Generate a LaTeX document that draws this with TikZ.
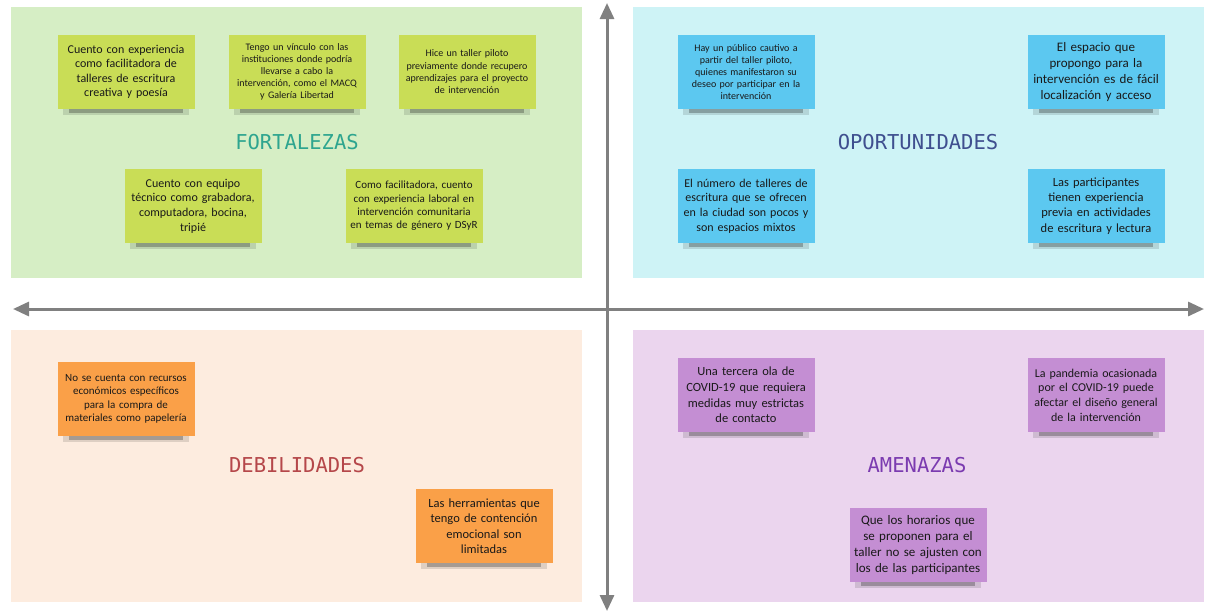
\documentclass[tikz,border=0pt]{standalone}
\usepackage{fontspec}
\setmainfont{Carlito}
\newfontfamily\titlefont{DejaVu Sans Mono}
\usetikzlibrary{arrows.meta}

\definecolor{fortbg}{RGB}{214,238,197}
\definecolor{oporbg}{RGB}{206,243,246}
\definecolor{debibg}{RGB}{253,236,223}
\definecolor{amenbg}{RGB}{235,213,238}
\definecolor{fortnote}{RGB}{201,221,86}
\definecolor{opornote}{RGB}{92,200,240}
\definecolor{debinote}{RGB}{250,160,72}
\definecolor{amennote}{RGB}{196,142,211}
\definecolor{forttxt}{RGB}{46,165,143}
\definecolor{oportxt}{RGB}{63,79,143}
\definecolor{debitxt}{RGB}{181,71,74}
\definecolor{amentxt}{RGB}{123,59,176}
\definecolor{axisgray}{RGB}{128,128,128}

\begin{document}
\begin{tikzpicture}[x=1pt,y=-1pt,
	note/.style={minimum width=137pt,minimum height=74pt,text width=133pt,align=center,
		inner sep=2pt,text=black!90},
	title/.style={font=\titlefont\fontsize{20.5}{24}\selectfont},
	axis/.style={draw=axisgray,line width=3pt,{Triangle[length=16pt,width=14pt]}-{Triangle[length=16pt,width=14pt]}}]
	\useasboundingbox (0,0) rectangle (1209,613);

	%quadrants
	\fill[fortbg] (11,7) rectangle (582,278);
	\fill[oporbg] (633,7) rectangle (1204,278);
	\fill[debibg] (11,330) rectangle (582,602);
	\fill[amenbg] (633,330) rectangle (1204,602);

	%axes
	\coordinate (axleft) at (13,309);
	\coordinate (axright) at (1204,309);
	\coordinate (axtop) at (607,3);
	\coordinate (axbottom) at (607,611);
	\draw[axis] (axleft) -- (axright);
	\draw[axis] (axtop) -- (axbottom);

	%fortalezas
	\node[title,text=forttxt] (fort) at (297,142) {FORTALEZAS};
	\node[note,fill=fortnote,font=\fontsize{12}{14.5}\selectfont] (fort1) at (126,72)
		{Cuento con experiencia\\como facilitadora de\\talleres de escritura\\creativa y poesía};
	\node[note,fill=fortnote,font=\fontsize{10}{12}\selectfont] (fort2) at (297,72)
		{Tengo un vínculo con las\\instituciones donde podría\\llevarse a cabo la\\intervención, como el MACQ\\y Galería Libertad};
	\node[note,fill=fortnote,font=\fontsize{10}{12.3}\selectfont] (fort3) at (467,72)
		{Hice un taller piloto\\previamente donde recupero\\aprendizajes para el proyecto\\de intervención};
	\node[note,fill=fortnote,font=\fontsize{12}{14.7}\selectfont] (fort4) at (193,206)
		{Cuento con equipo\\técnico como grabadora,\\computadora, bocina,\\tripié};
	\node[note,fill=fortnote,font=\fontsize{11}{13.3}\selectfont] (fort5) at (414,206)
		{Como facilitadora, cuento\\con experiencia laboral en\\intervención comunitaria\\en temas de género y DSyR};

	%oportunidades
	\node[title,text=oportxt] (opor) at (918,142) {OPORTUNIDADES};
	\node[note,fill=opornote,font=\fontsize{10}{12}\selectfont] (opor1) at (746,72)
		{Hay un público cautivo a\\partir del taller piloto,\\quienes manifestaron su\\deseo por participar en la\\intervención};
	\node[note,fill=opornote,font=\fontsize{13}{15.7}\selectfont] (opor2) at (1096,72)
		{El espacio que\\propongo para la\\intervención es de fácil\\localización y acceso};
	\node[note,fill=opornote,font=\fontsize{12}{14.7}\selectfont] (opor3) at (746,206)
		{El número de talleres de\\escritura que se ofrecen\\en la ciudad son pocos y\\son espacios mixtos};
	\node[note,fill=opornote,font=\fontsize{12.5}{15.3}\selectfont] (opor4) at (1096,206)
		{Las participantes\\tienen experiencia\\previa en actividades\\de escritura y lectura};

	%debilidades
	\node[title,text=debitxt] (debi) at (297,465) {DEBILIDADES};
	\node[note,fill=debinote,font=\fontsize{11}{13.3}\selectfont] (debi1) at (126,399)
		{No se cuenta con recursos\\económicos específicos\\para la compra de\\materiales como papelería};
	\node[note,fill=debinote,font=\fontsize{12.5}{15.5}\selectfont] (debi2) at (484,526)
		{Las herramientas que\\tengo de contención\\emocional son\\limitadas};

	%amenazas
	\node[title,text=amentxt] (amen) at (917,465) {AMENAZAS};
	\node[note,fill=amennote,font=\fontsize{12.5}{15.7}\selectfont] (amen1) at (746,395)
		{Una tercera ola de\\COVID-19 que requiera\\medidas muy estrictas\\de contacto};
	\node[note,fill=amennote,font=\fontsize{12}{14.7}\selectfont] (amen2) at (1096,395)
		{La pandemia ocasionada\\por el COVID-19 puede\\afectar el diseño general\\de la intervención};
	\node[note,fill=amennote,font=\fontsize{13}{16}\selectfont] (amen3) at (918,545)
		{Que los horarios que\\se proponen para el\\taller no se ajusten con\\los de las participantes};

	%shadows under the notes
	\foreach \n in {fort1,fort2,fort3,fort4,fort5,opor1,opor2,opor3,opor4,debi1,debi2,amen1,amen2,amen3}{
		\fill[black,opacity=0.12] ([xshift=6pt]\n.south west) rectangle ([xshift=-6pt,yshift=-6pt]\n.south east);
		\fill[black,opacity=0.25] ([xshift=12pt]\n.south west) rectangle ([xshift=-12pt,yshift=-4pt]\n.south east);
	}
\end{tikzpicture}
\end{document}
